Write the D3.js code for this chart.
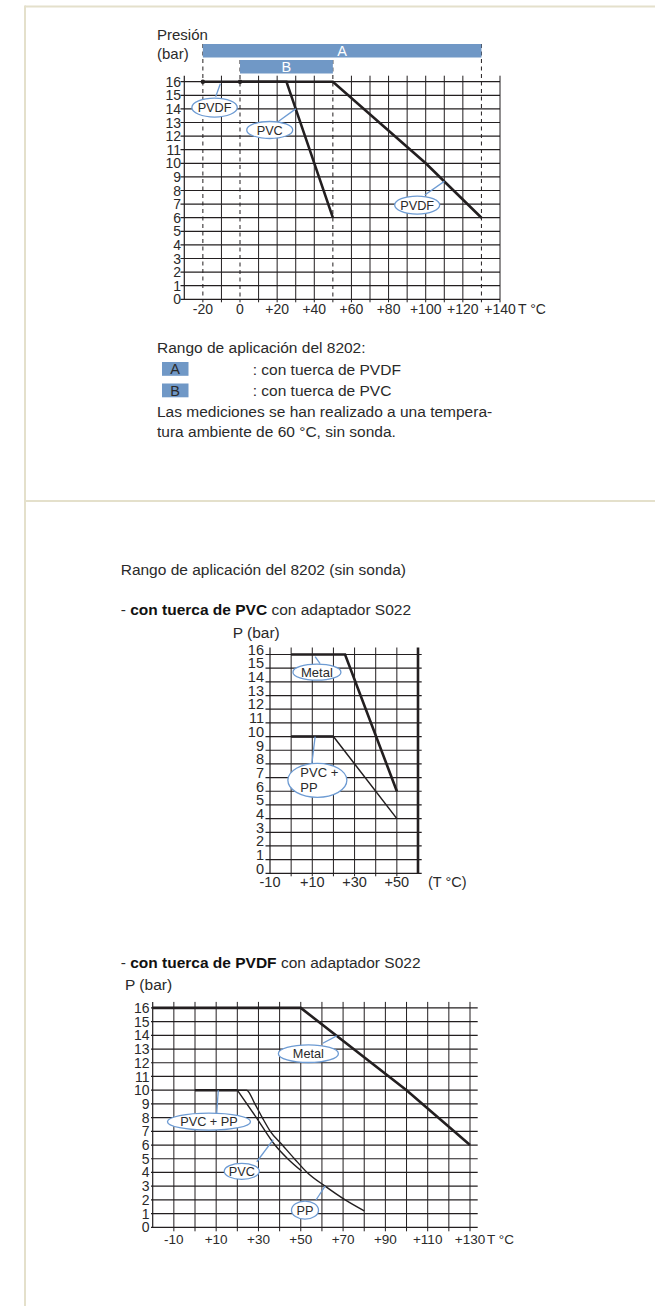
<!DOCTYPE html>
<html><head><meta charset="utf-8">
<script src="https://cdn.jsdelivr.net/npm/d3@7"></script>
<style>
body{margin:0;background:#fff;}
svg{display:block;font-family:"Liberation Sans",Arial,Helvetica,sans-serif;}
</style></head><body>
<svg id="c" width="655" height="1306"></svg>
<script>
// ---------------- DATA ----------------
const yTickLabels = [0,1,2,3,4,5,6,7,8,9,10,11,12,13,14,15,16];

// Chart 1
const c1XTickLabels = [-20,0,20,40,60,80,100,120,140];
const c1XGrid = [-20,-10,0,10,20,30,40,50,60,70,80,90,100,110,120,130,140];
const c1DashedA = [-20,130];
const c1DashedB = [0,50];
const c1RangeNames = ["A","B"];
const c1RangeFrom = [-20,0];
const c1RangeTo = [130,50];
const c1PVDF = [[-20,16],[50,16],[100,10],[130,6]];
const c1PVC = [[0,16],[25,16],[50,6]];
const c1Dots = [[-20,16],[0,16]];
const c1Labels = [
  {text:"PVDF", cx:-13.7, cy:14.1, rx:22.7, ry:9.5, from:[-13.1,14.9], to:[-10.6,15.85]},
  {text:"PVC", cx:16, cy:12.45, rx:23, ry:8.5, from:[20.4,13.06], to:[30,14]},
  {text:"PVDF", cx:95.4, cy:6.93, rx:22.5, ry:9, from:[99.5,7.67], to:[110,8.67]}
];

// Chart 2
const c2XTickLabels = [-10,10,30,50];
const c2XGrid = [0,10,20,30,40,50];
const c2Metal = [[0,16],[25.5,16],[50,6]];
const c2PvcPp = [[0,10],[20,10],[50,4]];
const c2Labels = [
  {text:["Metal"], cx:12.2, cy:14.71, rx:24, ry:8, from:[13.7,15.34], to:[11.35,15.85]},
  {text:["PVC +","PP"], cx:12.4, cy:6.8, rx:29.5, ry:17, from:[9.8,8.04], to:[11.35,10]}
];

// Chart 3
const c3XTickLabels = [-10,10,30,50,70,90,110,130];
const c3XGrid = [-10,0,10,20,30,40,50,60,70,80,90,100,110,120,130];
const c3Metal = [[-20,16],[50,16],[100,10],[130,6]];
const c3PvcPp = [[0,10],[20,10]];
const c3PVC = [[20,10],[29,8],[37.8,6],[43.8,5],[50.4,4.1]];
const c3PP = [[20,10],[24.4,10],[28.3,9],[31.8,8],[35.6,7],[41.3,6],[47,5],[53,4],[61.5,3],[71,2],[80,1.2]];
const c3Labels = [
  {text:"Metal", cx:53.6, cy:12.66, rx:30, ry:8.8, from:[60.4,13.42], to:[67,13.96]},
  {text:"PVC + PP", cx:6.6, cy:7.7, rx:41.5, ry:8.5, from:[10.26,8.32], to:[11,10]},
  {text:"PVC", cx:22.1, cy:4.08, rx:17.5, ry:8, from:[29.2,4.78], to:[37,6.4]},
  {text:"PP", cx:52, cy:1.25, rx:13.5, ry:9, from:[57.2,1.99], to:[61.5,3]}
];

// ---------------- STYLE ----------------
const INK = "#231f20";
const TXT = "#2a2a2a";
const BLUE = "#7098c6";
const LBLUE = "#6d9bd3";
const FRAME = "#e4e0cb";

const svg = d3.select("#c");

// frame
svg.append("line").attr("x1",25).attr("x2",655).attr("y1",6.5).attr("y2",6.5).attr("stroke",FRAME).attr("stroke-width",2);
svg.append("line").attr("x1",25).attr("x2",25).attr("y1",5.5).attr("y2",1306).attr("stroke",FRAME).attr("stroke-width",2);
svg.append("line").attr("x1",25).attr("x2",655).attr("y1",501).attr("y2",501).attr("stroke",FRAME).attr("stroke-width",2);

function grid(g, x, y, xGrid, hx0, hx1, top, bottom) {
  g.selectAll("line.h").data(yTickLabels).join("line").attr("class","h")
    .attr("x1",hx0).attr("x2",hx1).attr("y1",d=>y(d)).attr("y2",d=>y(d))
    .attr("stroke",INK).attr("stroke-width",1.2);
  g.selectAll("line.v").data(xGrid).join("line").attr("class","v")
    .attr("x1",d=>x(d)).attr("x2",d=>x(d)).attr("y1",top).attr("y2",bottom)
    .attr("stroke",INK).attr("stroke-width",1);
}
function yLabels(g, y, xr, fs, dy) {
  g.selectAll("text.yl").data(yTickLabels).join("text").attr("class","yl")
    .attr("x",xr).attr("y",d=>y(d)).attr("dy",dy).attr("text-anchor","end")
    .attr("font-size",fs).attr("fill",TXT).text(d=>d);
}
function fmt(d){ return d>0 ? "+"+d : String(d); }
function xLabels(g, x, vals, base, fs) {
  g.selectAll("text.xl").data(vals).join("text").attr("class","xl")
    .attr("x",d=>x(d)).attr("y",base).attr("text-anchor","middle")
    .attr("font-size",fs).attr("fill",TXT).text(fmt);
}
function series(g, x, y, pts, w, curve) {
  const line = d3.line().x(d=>x(d[0])).y(d=>y(d[1])).curve(curve||d3.curveLinear);
  g.append("path").attr("d",line(pts)).attr("fill","none").attr("stroke",INK)
    .attr("stroke-width",w).attr("stroke-linejoin","miter");
}
function labels(g, x, y, list, fs) {
  list.forEach(l=>{
    g.append("line").attr("x1",x(l.from[0])).attr("y1",y(l.from[1]))
      .attr("x2",x(l.to[0])).attr("y2",y(l.to[1])).attr("stroke",LBLUE).attr("stroke-width",1.3);
    g.append("ellipse").attr("cx",x(l.cx)).attr("cy",y(l.cy)).attr("rx",l.rx).attr("ry",l.ry)
      .attr("fill","#fff").attr("stroke",LBLUE).attr("stroke-width",1.3);
    const lines = Array.isArray(l.text)? l.text : [l.text];
    if (lines.length===1) {
      g.append("text").attr("x",x(l.cx)).attr("y",y(l.cy)).attr("dy","0.36em")
        .attr("text-anchor","middle").attr("font-size",fs).attr("fill",TXT).text(lines[0]);
    } else {
      lines.forEach((t,i)=>{
        g.append("text").attr("x",x(l.cx)-l.rx+12.5).attr("y",y(l.cy)+(i-0.5)*15).attr("dy","0.36em")
          .attr("font-size",fs).attr("fill",TXT).text(t);
      });
    }
  });
}

// ================= CHART 1 =================
{
  const g = svg.append("g");
  const x = d3.scaleLinear().domain([-30,140]).range([184.3,500]);
  const y = d3.scaleLinear().domain([0,16]).range([299.3,81.7]);
  const solid = c1XGrid.filter(d=>!c1DashedA.includes(d) && !c1DashedB.includes(d));
  grid(g, x, y, solid, 180.5, 500, y(16)-6, y(0)+3);
  g.append("line").attr("x1",x(-30)).attr("x2",x(-30)).attr("y1",y(16)-6).attr("y2",y(0))
    .attr("stroke",INK).attr("stroke-width",1.2);
  const dashed = c1DashedA.map(d=>({v:d,top:44})).concat(c1DashedB.map(d=>({v:d,top:60})));
  g.selectAll("line.d").data(dashed).join("line").attr("class","d")
    .attr("x1",d=>x(d.v)).attr("x2",d=>x(d.v)).attr("y1",d=>d.top).attr("y2",y(0)+3)
    .attr("stroke",INK).attr("stroke-width",1).attr("stroke-dasharray","4,3.5");
  const rows = [44,60];
  c1RangeNames.forEach((n,i)=>{
    g.append("rect").attr("x",x(c1RangeFrom[i])).attr("y",rows[i])
      .attr("width",x(c1RangeTo[i])-x(c1RangeFrom[i])).attr("height",13.5).attr("fill",BLUE);
    g.append("text").attr("x",(x(c1RangeFrom[i])+x(c1RangeTo[i]))/2).attr("y",rows[i]+6.9)
      .attr("dy","0.36em").attr("text-anchor","middle").attr("font-size",14.5).attr("fill","#fff").text(n);
  });
  series(g, x, y, c1PVDF, 2.6);
  series(g, x, y, c1PVC, 2.6);
  g.selectAll("circle.dot").data(c1Dots).join("circle").attr("class","dot")
    .attr("cx",d=>x(d[0])).attr("cy",d=>y(d[1])).attr("r",2.2).attr("fill",INK);
  yLabels(g, y, 181, 14, "0.36em");
  xLabels(g, x, c1XTickLabels, 314, 14);
  g.append("text").attr("x",518).attr("y",314).attr("font-size",14).attr("fill",TXT).text("T °C");
  g.append("text").attr("x",157).attr("y",39.5).attr("font-size",15).attr("fill",TXT).text("Presión");
  g.append("text").attr("x",157).attr("y",58.5).attr("font-size",15).attr("fill",TXT).text("(bar)");
  labels(g, x, y, c1Labels, 12.7);

  const t = svg.append("g").attr("font-size",15.5).attr("fill",TXT);
  t.append("text").attr("x",157).attr("y",353.3).text("Rango de aplicación del 8202:");
  const boxY = [362,383.5];
  const legTxt = [": con tuerca de PVDF", ": con tuerca de PVC"];
  c1RangeNames.forEach((n,i)=>{
    t.append("rect").attr("x",162).attr("y",boxY[i]).attr("width",26.5).attr("height",13.8).attr("fill",BLUE);
    t.append("text").attr("x",175.2).attr("y",boxY[i]+6.9).attr("dy","0.36em").attr("text-anchor","middle")
      .attr("font-size",14.5).text(n);
    t.append("text").attr("x",252.7).attr("y",boxY[i]+12.8).text(legTxt[i]);
  });
  t.append("text").attr("x",157).attr("y",416.7).text("Las mediciones se han realizado a una tempera-");
  t.append("text").attr("x",157).attr("y",437.3).text("tura ambiente de 60 °C, sin sonda.");
}

// ================= Section 2 text =================
{
  const t = svg.append("g").attr("font-size",15.5).attr("fill",TXT);
  t.append("text").attr("x",120.7).attr("y",575).text("Rango de aplicación del 8202 (sin sonda)");
  const a = t.append("text").attr("x",120.7).attr("y",615);
  a.append("tspan").text("- ");
  a.append("tspan").attr("font-weight","bold").attr("fill","#111").text("con tuerca de PVC");
  a.append("tspan").text(" con adaptador S022");
  t.append("text").attr("x",232.7).attr("y",638).text("P (bar)");
  const b = t.append("text").attr("x",120.7).attr("y",968.3);
  b.append("tspan").text("- ");
  b.append("tspan").attr("font-weight","bold").attr("fill","#111").text("con tuerca de PVDF");
  b.append("tspan").text(" con adaptador S022");
  t.append("text").attr("x",125).attr("y",990).text("P (bar)");
}

// ================= CHART 2 =================
{
  const g = svg.append("g");
  const x = d3.scaleLinear().domain([-10,60]).range([270,418]);
  const y = d3.scaleLinear().domain([0,16]).range([873.3,654.5]);
  grid(g, x, y, c2XGrid, 265.5, 421.7, y(16)-7, y(0)+3);
  g.append("line").attr("x1",x(-10)).attr("x2",x(-10)).attr("y1",y(16)-7).attr("y2",y(0))
    .attr("stroke",INK).attr("stroke-width",1.2);
  g.append("line").attr("x1",x(60)).attr("x2",x(60)).attr("y1",y(16)-7).attr("y2",y(0))
    .attr("stroke",INK).attr("stroke-width",2.6);
  series(g, x, y, c2Metal, 2.6);
  series(g, x, y, c2PvcPp.slice(0,2), 2.6);
  series(g, x, y, c2PvcPp, 1.5);
  yLabels(g, y, 264, 14.5, "0.02em");
  xLabels(g, x, c2XTickLabels, 887, 14.5);
  g.append("text").attr("x",428).attr("y",887).attr("font-size",14.5).attr("fill",TXT).text("(T °C)");
  labels(g, x, y, c2Labels, 13);
}

// ================= CHART 3 =================
{
  const g = svg.append("g");
  const x = d3.scaleLinear().domain([-20,130]).range([152.7,470]);
  const y = d3.scaleLinear().domain([0,16]).range([1227.3,1007.9]);
  grid(g, x, y, c3XGrid, 151, 477.7, y(16)-6, y(0)+4);
  g.append("line").attr("x1",x(-20)).attr("x2",x(-20)).attr("y1",y(16)-6).attr("y2",y(0))
    .attr("stroke",INK).attr("stroke-width",1.2);
  series(g, x, y, c3Metal, 2.6);
  series(g, x, y, c3PvcPp, 2.6);
  series(g, x, y, c3PVC, 1.4, d3.curveMonotoneX);
  series(g, x, y, c3PP, 1.4, d3.curveMonotoneX);
  yLabels(g, y, 149.5, 14, "0.36em");
  xLabels(g, x, c3XTickLabels, 1244, 13.5);
  g.append("text").attr("x",487).attr("y",1244).attr("font-size",13.5).attr("fill",TXT).text("T °C");
  labels(g, x, y, c3Labels, 12.7);
}
</script>
</body></html>
